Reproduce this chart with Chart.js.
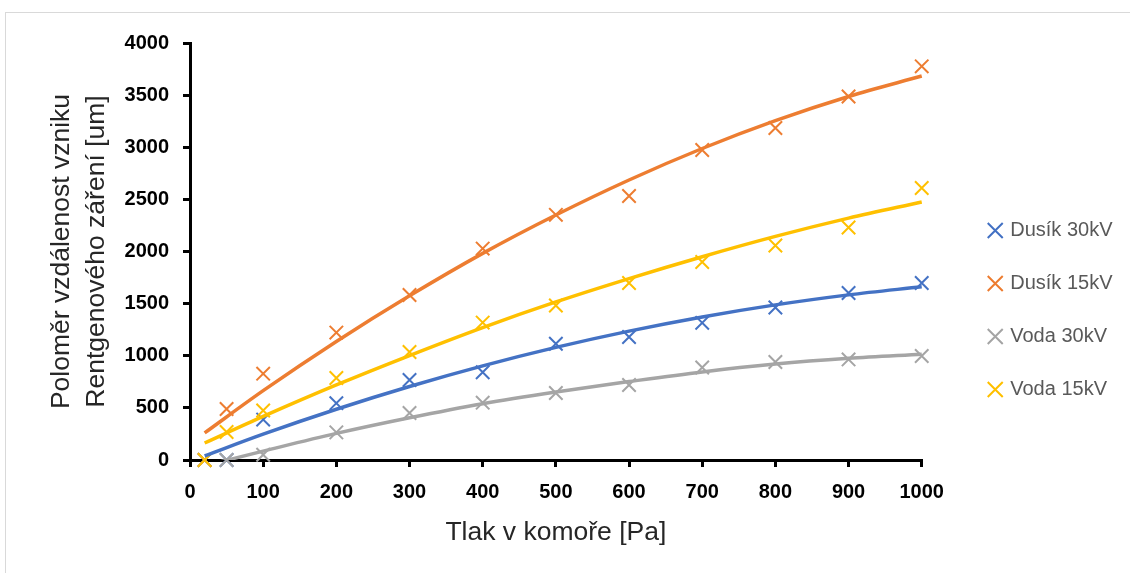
<!DOCTYPE html>
<html><head><meta charset="utf-8">
<script src="https://cdn.jsdelivr.net/npm/chart.js@4.4.0/dist/chart.umd.min.js"></script>
<style>
html,body{margin:0;padding:0;background:#fff;}
#wrap{position:relative;width:1130px;height:573px;overflow:hidden;}
#frame{position:absolute;left:5px;top:12px;width:1200px;height:700px;border:1px solid #d9d9d9;}
canvas{position:absolute;left:0;top:0;}
</style></head><body>
<div id="wrap"><div id="frame"></div><canvas id="c" width="1130" height="573"></canvas></div>
<script>
// measured points
const pressure = [20, 50, 100, 200, 300, 400, 500, 600, 700, 800, 900, 1000];
const dusik30 = [0, 0, 388, 545, 767, 842, 1115, 1180, 1316, 1463, 1602, 1698];
const dusik15 = [0, 489, 828, 1222, 1583, 2028, 2352, 2532, 2974, 3185, 3487, 3776];
const voda30  = [0, 0, 50, 265, 451, 550, 643, 719, 887, 940, 965, 998];
const voda15  = [0, 269, 475, 787, 1036, 1318, 1482, 1698, 1899, 2058, 2230, 2609];
// trend lines
const trendX = [20, 100, 200, 300, 400, 500, 600, 700, 800, 900, 1000];
const dusik30Trend = [40, 248, 487, 705, 903, 1080, 1236, 1372, 1488, 1584, 1662];
const dusik15Trend = [260, 665, 1137, 1575, 1982, 2350, 2686, 2988, 3255, 3487, 3683];
const voda30Trend  = [-55, 85, 255, 405, 540, 652, 752, 845, 920, 975, 1015];
const voda15Trend  = [163, 418, 720, 1002, 1270, 1516, 1740, 1950, 2145, 2320, 2475];
const seriesNames = ['Dusík 30kV', 'Dusík 15kV', 'Voda 30kV', 'Voda 15kV'];
const xTicks = [0, 1000, 100];
const yTicks = [0, 4000, 500];

const FONT = "'Liberation Sans', Arial, sans-serif";
const colors = ['#4472C4', '#ED7D31', '#A5A5A5', '#FFC000'];
const values = [dusik30, dusik15, voda30, voda15];
const trends = [dusik30Trend, dusik15Trend, voda30Trend, voda15Trend];
const pts = (xs, ys) => xs.map((x, i) => ({x: x, y: ys[i]}));

const datasets = [];
seriesNames.forEach((name, i) => {
  datasets.push({
    label: name, data: pts(pressure, values[i]), showLine: false,
    pointStyle: 'crossRot', pointRadius: 9.5, pointHoverRadius: 9.5,
    pointBorderWidth: 2, pointBorderColor: colors[i], borderColor: colors[i],
    backgroundColor: colors[i], borderWidth: 2, order: 8 - i, clip: false
  });
});
seriesNames.forEach((name, i) => {
  datasets.push({
    label: name + ' trend', isTrend: true, data: pts(trendX, trends[i]), showLine: true,
    borderColor: colors[i], backgroundColor: colors[i], borderWidth: 3.5,
    pointRadius: 0, pointHoverRadius: 0, cubicInterpolationMode: 'monotone',
    order: 4 - i, clip: {left: false, right: false, top: false, bottom: 0}
  });
});

const axisGrid = {display: true, drawOnChartArea: false, drawTicks: true, tickLength: 7, color: '#000', lineWidth: 3};
const axisBorder = {display: true, color: '#000', width: 3};
const tickFont = {family: FONT, size: 20, weight: 'bold'};
const plain = v => String(v);

new Chart(document.getElementById('c'), {
  type: 'scatter',
  data: {datasets: datasets},
  options: {
    responsive: false, animation: false, devicePixelRatio: 1,
    layout: {padding: {left: 0, top: 43, right: 7.5, bottom: 0}},
    scales: {
      x: {
        type: 'linear', min: xTicks[0], max: xTicks[1],
        ticks: {stepSize: xTicks[2], color: '#000', font: tickFont, padding: 13, maxRotation: 0, callback: plain},
        grid: axisGrid, border: axisBorder,
        title: {display: true, text: 'Tlak v komoře [Pa]', color: '#262626',
          font: {family: FONT, size: 26.5}, padding: {top: 0, bottom: 24}},
        afterFit: s => { s.height = 113; }
      },
      y: {
        type: 'linear', min: yTicks[0], max: yTicks[1],
        ticks: {stepSize: yTicks[2], color: '#000', font: tickFont, padding: 14, callback: plain},
        grid: axisGrid, border: axisBorder,
        title: {display: true, text: ['Poloměr vzdálenost vzniku', 'Rentgenového záření [um]'],
          color: '#262626', font: {family: FONT, size: 26.5, lineHeight: '35px'},
          padding: {top: 44.5, bottom: 0}},
        afterFit: s => { s.width = 190; }
      },
      yR: {
        type: 'linear', position: 'right', display: true,
        grid: {display: false}, border: {display: false}, ticks: {display: false},
        afterFit: s => { s.width = 35.5; }
      }
    },
    plugins: {
      tooltip: {enabled: false},
      legend: {
        position: 'right', align: 'center',
        title: {display: true, text: '', padding: 0, font: {size: 4, lineHeight: '4px'}},
        labels: {
          usePointStyle: true, boxWidth: 10, boxHeight: 15, padding: 33,
          color: '#595959', font: {family: FONT, size: 20},
          sort: (a, b) => a.datasetIndex - b.datasetIndex,
          filter: (item, data) => !data.datasets[item.datasetIndex].isTrend
        }
      }
    }
  }
});
</script>
</body></html>
